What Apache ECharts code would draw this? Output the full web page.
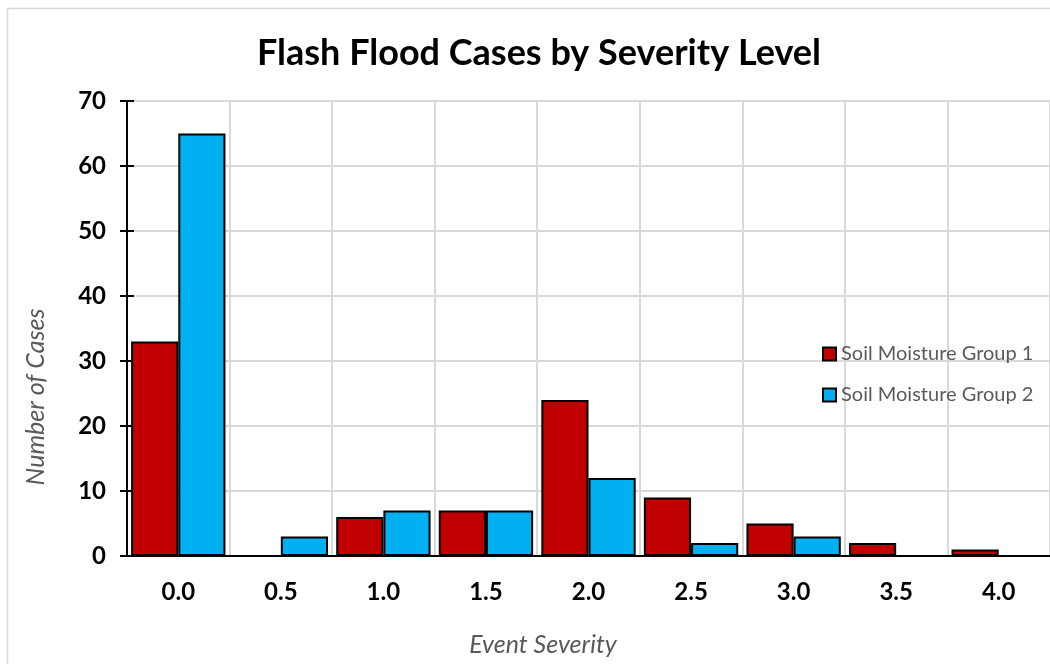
<!DOCTYPE html>
<html>
<head>
<meta charset="utf-8">
<script src="https://cdn.jsdelivr.net/npm/echarts@6/dist/echarts.min.js"></script>
<style>
html,body{margin:0;padding:0;background:#fff;}
#chart{width:1050px;height:664px;}
</style>
</head>
<body>
<div id="chart"></div>
<script>
const categories = ['0.0','0.5','1.0','1.5','2.0','2.5','3.0','3.5','4.0'];
const group1 = [33, 0, 6, 7, 24, 9, 5, 2, 1];
const group2 = [65, 3, 7, 7, 12, 2, 3, 0, 0];
const seriesNames = ['Soil Moisture Group 1', 'Soil Moisture Group 2'];
const yTicks = {min: 0, max: 70, interval: 10};

const FONT = 'Lato';
const chart = echarts.init(document.getElementById('chart'));
const grid = {left: 127, top: 101, width: 928, height: 455};
chart.setOption({
  animation: false,
  backgroundColor: '#fff',
  title: {
    text: 'Flash Flood Cases by Severity Level',
    left: 534, top: 30, textAlign: 'center',
    textStyle: {fontFamily: FONT, fontWeight: 'bold', fontSize: 36, color: '#000'}
  },
  legend: {
    orient: 'vertical', left: 822, top: 344, itemGap: 21, padding: 0,
    itemWidth: 13, itemHeight: 13, icon: 'rect',
    textStyle: {fontFamily: FONT, fontSize: 20, color: '#595959'},
    data: seriesNames
  },
  graphic: [
    {type: 'rect', shape: {x: 7.5, y: 8.5, width: 1100, height: 700}, style: {fill: 'none', stroke: '#d9d9d9', lineWidth: 1.5}, silent: true, z: -1},
    {type: 'text', x: 36, y: 397, rotation: Math.PI/2, style: {text: 'Number of Cases', fontFamily: FONT, fontStyle: 'italic', fontSize: 25, fill: '#595959', align: 'center', verticalAlign: 'middle'}},
    {type: 'text', x: 543, y: 645, style: {text: 'Event Severity', fontFamily: FONT, fontStyle: 'italic', fontSize: 25, fill: '#595959', align: 'center', verticalAlign: 'middle'}}
  ],
  grid: grid,
  xAxis: [{
    type: 'category', data: categories, position: 'bottom',
    axisLine: {lineStyle: {color: '#000', width: 2}},
    axisTick: {show: false},
    axisLabel: {fontFamily: FONT, fontWeight: 'bold', fontSize: 24, color: '#000', margin: 24},
    splitLine: {show: true, lineStyle: {color: '#d9d9d9', width: 2}}
  }, {
    type: 'category', data: categories, position: 'top',
    axisLine: {lineStyle: {color: '#000', width: 2}},
    axisTick: {show: false}, axisLabel: {show: false}, splitLine: {show: false}
  }],
  yAxis: [{
    type: 'value', min: yTicks.min, max: yTicks.max, interval: yTicks.interval,
    axisLine: {show: true, lineStyle: {color: '#000', width: 2}},
    axisTick: {show: true, length: 7, lineStyle: {color: '#000', width: 2}},
    axisLabel: {fontFamily: FONT, fontWeight: 'bold', fontSize: 24, color: '#000', margin: 21},
    splitLine: {show: true, lineStyle: {color: '#d9d9d9', width: 2}}
  }, {
    type: 'value', min: yTicks.min, max: yTicks.max, interval: yTicks.interval, position: 'left',
    axisLine: {show: false},
    axisTick: {show: true, inside: true, length: 7, lineStyle: {color: '#000', width: 2}},
    axisLabel: {show: false}, splitLine: {show: false}
  }],
  series: [{
    name: seriesNames[0], type: 'bar', data: group1,
    barGap: '0%', barCategoryGap: '8%',
    itemStyle: {color: '#C00000', borderColor: '#000', borderWidth: 2}
  }, {
    name: seriesNames[1], type: 'bar', data: group2,
    barGap: '0%', barCategoryGap: '8%',
    itemStyle: {color: '#00B0F0', borderColor: '#000', borderWidth: 2}
  }]
});
</script>
</body>
</html>
